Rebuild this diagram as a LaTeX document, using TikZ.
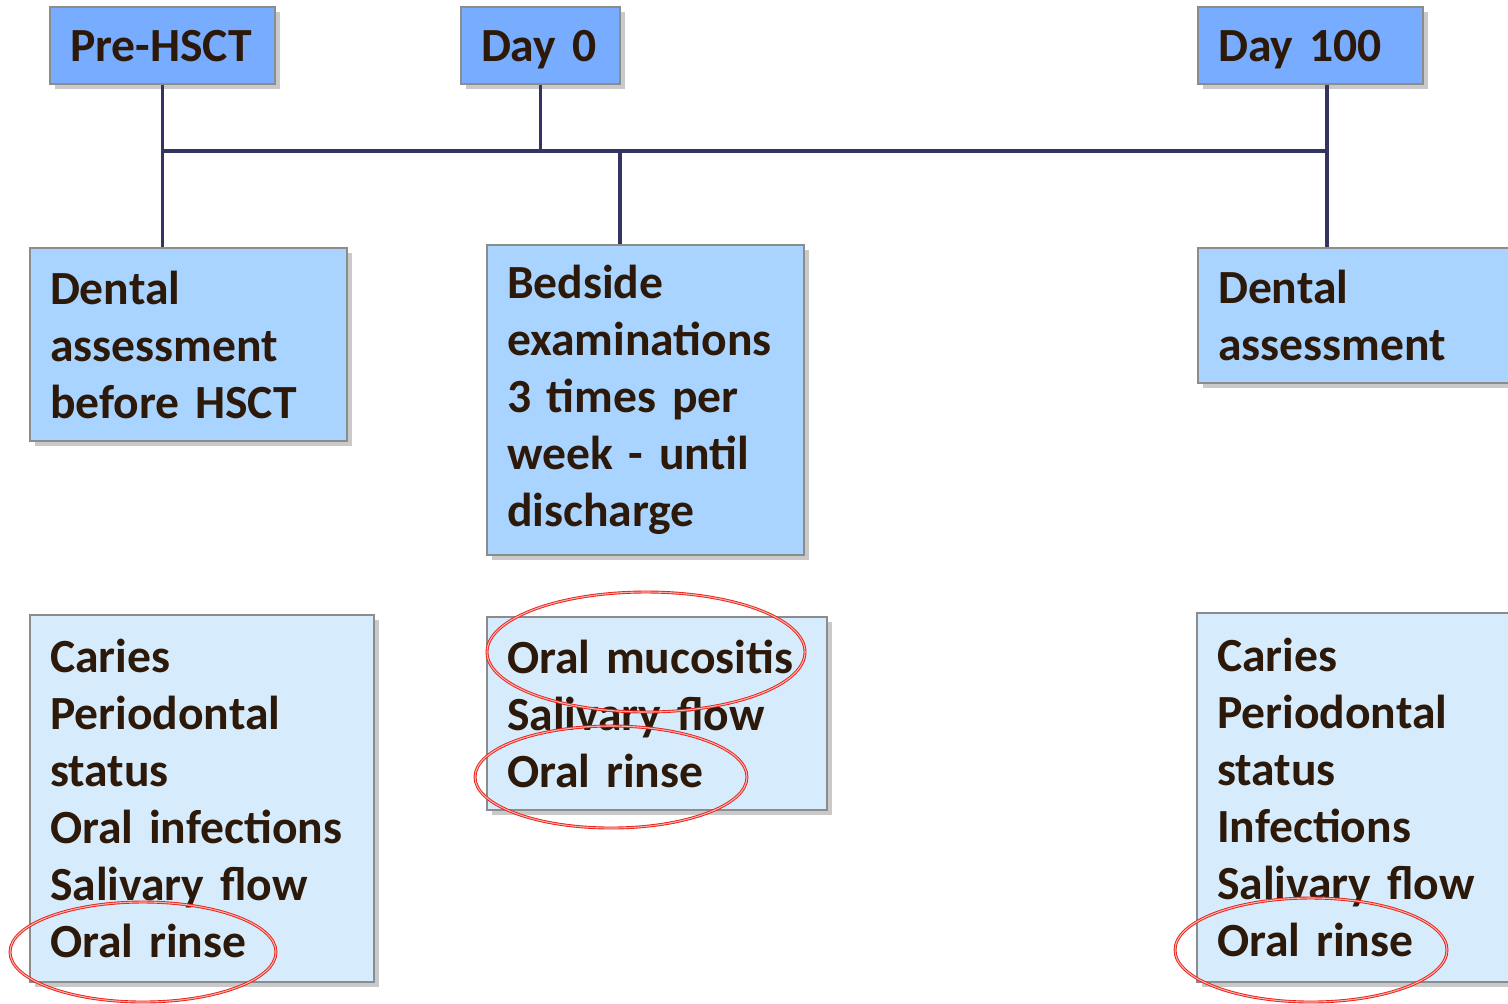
\documentclass[tikz,border=0pt]{standalone}
\usepackage{fontspec}
\setmainfont[WordSpace=0.8]{Carlito}
\usetikzlibrary{shadows}
\definecolor{hdrblue}{RGB}{120,172,255}
\definecolor{midblue}{RGB}{168,212,255}
\definecolor{paleblue}{RGB}{214,236,252}
\definecolor{linknavy}{RGB}{52,52,98}
\definecolor{inkbrown}{RGB}{45,25,10}
\definecolor{ringred}{RGB}{235,30,20}
\begin{document}
\begin{tikzpicture}[x=0.5pt, y=-0.5pt,
		box/.style={draw=black!45, line width=0.6pt, text=inkbrown, inner xsep=10pt, inner ysep=0pt, align=left,
			font=\fontsize{23.8}{28.5}\selectfont\bfseries,
			drop shadow={shadow xshift=2.5pt, shadow yshift=-2.5pt, opacity=.3, fill=black!70}},
		hdr/.style={box, fill=hdrblue, minimum height=38.5pt, text depth=-2pt},
		task/.style={box, fill=midblue},
		item/.style={box, fill=paleblue},
		link/.style={draw=linknavy, line width=1.6pt},
		ring/.style={draw=ringred, line width=0.45pt, double=ringred!35, double distance=0.55pt}]
		\useasboundingbox (0,0) rectangle (1508,1003);
		  \node[hdr, minimum width=112.5pt, text width=92.5pt] (pre) at (162.5,45.5) {Pre-HSCT};
		  \node[hdr, minimum width=79.5pt, text width=59.5pt] (day0) at (540.5,45.5) {Day 0};
		  \node[hdr, minimum width=112.5pt, text width=92.5pt] (d100) at (1310.5,45.5) {Day 100};
		  \node[task, minimum width=158.5pt, minimum height=96.5pt, text width=138.5pt] (dentalL) at (188.5,344.5)
		    {Dental\\assessment\\before HSCT};
		  \node[task, minimum width=158.5pt, minimum height=155pt, text width=138.5pt] (bedside) at (645.5,400)
		    {Bedside\\examinations\\3 times per\\week - until\\discharge};
		  \node[task, minimum width=171pt, minimum height=67.5pt, text width=151pt] (dentalR) at (1369,315.5)
		    {Dental\\assessment};
		  \node[item, minimum width=172pt, minimum height=183.5pt, text width=152pt] (listL) at (202,798.5)
		    {Caries\\Periodontal\\status\\Oral infections\\Salivary flow\\Oral rinse};
		  \node[item, minimum width=170pt, minimum height=96.5pt, text width=150pt] (listM) at (657,713.5)
		    {Oral mucositis\\Salivary flow\\Oral rinse};
		  \node[item, minimum width=171.5pt, minimum height=184.5pt, text width=151.5pt] (listR) at (1368.5,797.5)
		    {Caries\\Periodontal\\status\\Infections\\Salivary flow\\Oral rinse};
		  \coordinate (bar) at (0,151);
		  \coordinate (stem) at (620,151);
		  \coordinate (drop) at (1327,151);
		  \draw[link] (pre.south |- bar) -- (drop);
		  \draw[link] (pre.south) -- (pre.south |- dentalL.north);
		  \draw[link] (day0.south) -- (day0.south |- bar);
		  \draw[link] (stem) -- (stem |- bedside.north);
		  \draw[link] (drop |- d100.south) -- (drop |- dentalR.north);
		  \draw[ring] (646,652) ellipse [x radius=79.5pt, y radius=30pt];
		  \draw[ring] (611,777) ellipse [x radius=68pt, y radius=25.5pt];
		  \draw[ring] (143,952) ellipse [x radius=66.5pt, y radius=25pt];
		  \draw[ring] (1311,950) ellipse [x radius=68pt, y radius=26pt];
		\end{tikzpicture}
\end{document}
